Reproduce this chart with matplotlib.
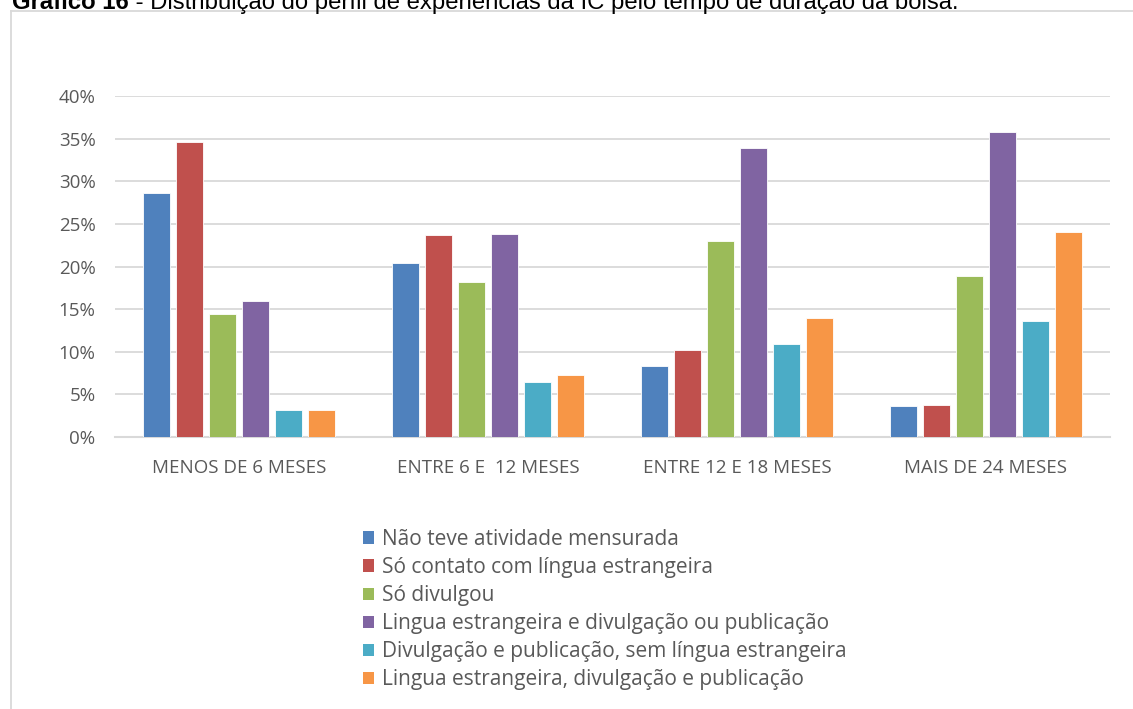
import numpy as np
import matplotlib
matplotlib.use("Agg")
import matplotlib.pyplot as plt
from matplotlib.patches import Patch
from matplotlib.lines import Line2D

# data (share of students, %)
categories = ['MENOS DE 6 MESES', 'ENTRE 6 E  12 MESES', 'ENTRE 12 E 18 MESES', 'MAIS DE 24 MESES']
series_names = [
    'Não teve atividade mensurada',
    'Só contato com língua estrangeira',
    'Só divulgou',
    'Lingua estrangeira e divulgação ou publicação',
    'Divulgação e publicação, sem língua estrangeira',
    'Lingua estrangeira, divulgação e publicação',
]
nao_teve = [28.6, 20.4, 8.3, 3.6]
so_lingua = [34.6, 23.7, 10.2, 3.8]
so_divulgou = [14.4, 18.2, 23.0, 18.9]
lingua_div_ou_pub = [16.0, 23.8, 33.9, 35.8]
div_e_pub = [3.2, 6.5, 10.9, 13.6]
lingua_div_e_pub = [3.2, 7.3, 14.0, 24.1]
series = [nao_teve, so_lingua, so_divulgou, lingua_div_ou_pub, div_e_pub, lingua_div_e_pub]

colors = ['#4F81BD', '#C0504D', '#9BBB59', '#8064A2', '#4BACC6', '#F79646']
title_bold = 'Gráfico 16'
title_rest = ' - Distribuição do perfil de experiências da IC pelo tempo de duração da bolsa.'

W, H = 1133, 709
fig = plt.figure(figsize=(W / 100, H / 100), dpi=100)
fig.patch.set_facecolor('white')

# outer chart frame (cut by the page edge on the right and bottom)
fig.add_artist(Line2D([11 / W, 11 / W], [0, 1 - 11 / H], transform=fig.transFigure, color='#D9D9D9', lw=1.3))
fig.add_artist(Line2D([11 / W, 1], [1 - 11 / H, 1 - 11 / H], transform=fig.transFigure, color='#D9D9D9', lw=1.3))

# caption above the frame, partly cut by the top edge as in the original page
t1 = fig.text(12 / W, 1 - 9 / H, title_bold, fontsize=17.2, fontweight='bold',
              family='Liberation Sans', va='baseline', ha='left')
fig.canvas.draw()
bb = t1.get_window_extent()
fig.text(bb.x1 / W, 1 - 9 / H, title_rest, fontsize=17.2, family='Liberation Sans', va='baseline', ha='left')

ax = fig.add_axes([115 / W, 1 - 437 / H, (1110 - 115) / W, (437 - 96) / H])

x = np.arange(len(categories))
slot = 33 / 248.75
bw = 27 / 248.75
for i, (vals, c) in enumerate(zip(series, colors)):
    pos = x + (i - 2.5) * slot
    ax.bar(pos, np.array(vals) / 100, width=bw, color=c, edgecolor='white', linewidth=0.6, zorder=3)

ax.set_xlim(-0.5, len(categories) - 0.5)
ax.set_ylim(0, 0.40)
ax.set_yticks(np.arange(0, 0.401, 0.05))
ax.set_yticklabels([f'{int(round(v * 100))}%' for v in np.arange(0, 0.401, 0.05)])
ax.set_xticks(x)
ax.set_xticklabels(categories)
ax.grid(axis='y', color='#D9D9D9', lw=1.3, zorder=0)
for s in ['top', 'right', 'left']:
    ax.spines[s].set_visible(False)
ax.spines['bottom'].set_color('#D9D9D9')
ax.spines['bottom'].set_linewidth(1.5)
ax.tick_params(axis='both', length=0, colors='#595959', labelsize=13.5)
ax.tick_params(axis='y', pad=14)
ax.tick_params(axis='x', pad=16)
for lab in ax.get_xticklabels() + ax.get_yticklabels():
    lab.set_family('Open Sans')

handles = [Patch(facecolor=c, edgecolor='none') for c in colors]
leg = fig.legend(handles, series_names, loc='upper left', bbox_to_anchor=(363 / W, 1 - 529 / H),
                 frameon=False, ncol=1, handlelength=0.55, handleheight=0.55,
                 handletextpad=0.35, labelspacing=0.34, borderaxespad=0, borderpad=0,
                 prop={'family': 'Open Sans', 'size': 15})
for t in leg.get_texts():
    t.set_color('#595959')

fig.savefig('out.png', dpi=100, facecolor='white')
